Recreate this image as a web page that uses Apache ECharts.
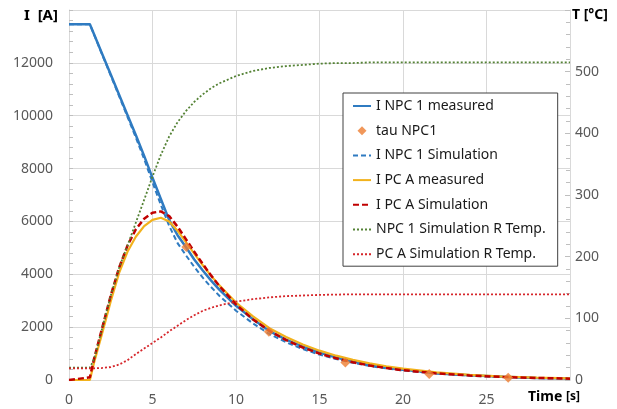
<!DOCTYPE html>
<html>
<head>
<meta charset="utf-8">
<script src="https://cdn.jsdelivr.net/npm/echarts@6/dist/echarts.min.js"></script>
<style>
  html, body { margin: 0; padding: 0; background: #fff; }
  #chart { width: 617px; height: 409px; }
</style>
</head>
<body>
<div id="chart"></div>
<script>
// time axis [s], shared by all curves
var time = [0, 1.25, 1.5, 2, 2.5, 3, 3.5, 4, 4.5, 5, 5.5, 6, 6.5, 7, 7.5, 8, 8.5, 9,
  10, 11, 12, 13, 14, 15, 16, 17, 18, 19, 20, 22, 24, 26, 28, 30];

// currents [A]
var npcMeasured = [13460, 13460, 13080, 12320, 11560, 10790, 10030, 9270, 8480, 7650, 6850, 6050, 5480, 5030, 4560, 4150, 3770, 3420,
  2810, 2310, 1850, 1530, 1260, 1040, 850, 700, 575, 475, 390, 260, 180, 120, 80, 55];
var npcSim = [13460, 13460, 13070, 12290, 11520, 10740, 9960, 9180, 8360, 7480, 6630, 5830, 5180, 4720, 4280, 3880, 3520, 3190,
  2620, 2150, 1740, 1430, 1170, 960, 790, 650, 530, 440, 360, 245, 165, 110, 75, 50];
var pcaMeasured = [0, 0, 650, 1800, 2980, 4050, 4850, 5420, 5820, 6060, 6140, 6000, 5650, 5220, 4780, 4350, 3950, 3580,
  2930, 2420, 1960, 1630, 1340, 1110, 920, 760, 630, 520, 430, 290, 195, 130, 88, 60];
var pcaSim = [0, 100, 800, 2000, 3200, 4250, 5080, 5700, 6100, 6330, 6380, 6200, 5800, 5330, 4850, 4400, 3960, 3560,
  2860, 2300, 1860, 1510, 1230, 1000, 820, 670, 550, 450, 370, 250, 170, 115, 78, 52];

// temperatures [°C]
var npcTemp = [20, 20, 34, 85, 137, 182, 218, 255, 292, 330, 365, 395, 418, 436, 451, 463, 473, 481,
  493, 501, 506, 509, 511, 513, 514, 514, 515, 515, 515, 515, 515, 515, 515, 515];
var pcaTemp = [19, 19, 19, 19.5, 21, 25, 32, 42, 51, 60, 69, 79, 88, 97, 105, 112, 117, 121,
  127, 131, 134, 136, 137, 138, 138.5, 139, 139, 139, 139, 139, 139, 139, 139, 139];

// tau markers
var tauTime = [7.03, 11.97, 16.55, 21.57, 26.3];
var tauCurrent = [5030, 1830, 665, 228, 88];

function pairs(xs, ys) {
  return xs.map(function (x, i) { return [x, ys[i]]; });
}

var font = '"Noto Sans", "DejaVu Sans", sans-serif';
var gridColor = '#d9d9d9';
var noSymbol = { color: 'rgba(0,0,0,0)', borderColor: 'rgba(0,0,0,0)', borderWidth: 0 };

var chart = echarts.init(document.getElementById('chart'));

var option = {
  animation: false,
  backgroundColor: '#fff',
  grid: { left: 69, right: 47, top: 10, bottom: 29 },
  legend: {
    orient: 'vertical',
    left: 343,
    top: 93,
    padding: [6, 12, 5, 9],
    itemWidth: 18,
    itemHeight: 9,
    itemGap: 10.7,
    borderColor: '#404040',
    borderWidth: 1,
    backgroundColor: '#fff',
    textStyle: { fontFamily: font, fontSize: 14, color: '#1a1a1a', lineHeight: 14 },
    data: [
      { name: 'I NPC 1 measured', itemStyle: noSymbol },
      { name: 'tau NPC1', icon: 'path://M0,0M18,9M9,0L13.5,4.5L9,9L4.5,4.5Z' },
      { name: 'I NPC 1 Simulation', itemStyle: noSymbol },
      { name: 'I PC A measured', itemStyle: noSymbol },
      { name: 'I PC A Simulation', itemStyle: noSymbol },
      { name: 'NPC 1 Simulation R Temp.', itemStyle: noSymbol },
      { name: 'PC A Simulation R Temp.', itemStyle: noSymbol }
    ]
  },
  xAxis: {
    type: 'value',
    min: 0, max: 30, interval: 5,
    axisLine: { lineStyle: { color: gridColor } },
    axisTick: { show: false },
    splitLine: { lineStyle: { color: gridColor } },
    axisLabel: {
      color: '#595959', fontFamily: font, fontSize: 14, margin: 13,
      showMaxLabel: false
    }
  },
  yAxis: [
    {
      type: 'value',
      min: 0, max: 14000, interval: 2000,
      axisLine: { show: true, lineStyle: { color: gridColor } },
      axisTick: { show: true, inside: true, length: 4, lineStyle: { color: '#bfbfbf' } },
      minorTick: { show: true, splitNumber: 5, length: 4, lineStyle: { color: '#bfbfbf' } },
      splitLine: { lineStyle: { color: gridColor } },
      axisLabel: {
        color: '#595959', fontFamily: font, fontSize: 14, margin: 16,
        showMaxLabel: false,
        formatter: function (v) { return String(v); }
      }
    },
    {
      type: 'value',
      min: 0, max: 600, interval: 100,
      axisLine: { show: true, lineStyle: { color: gridColor } },
      axisTick: { show: true, inside: true, length: 5, lineStyle: { color: '#bfbfbf' } },
      minorTick: { show: true, splitNumber: 5, length: 4, lineStyle: { color: '#bfbfbf' } },
      splitLine: { show: false },
      axisLabel: {
        color: '#595959', fontFamily: font, fontSize: 14, margin: 5,
        showMaxLabel: false
      }
    }
  ],
  graphic: [
    {
      type: 'text', left: 24, top: 8,
      style: { text: 'I  [A]', font: 'bold 15px ' + font, fill: '#000' }
    },
    {
      type: 'text', left: 572, top: 8,
      style: { text: 'T [°C]', font: 'bold 14px ' + font, fill: '#000' }
    },
    {
      type: 'text', left: 528, top: 390,
      style: {
        text: '{a|Time }{b|[s]}',
        rich: {
          a: { fontFamily: font, fontWeight: 'bold', fontSize: 14, fill: '#000' },
          b: { fontFamily: font, fontWeight: 'bold', fontSize: 12, fill: '#000' }
        }
      }
    }
  ],
  series: [
    {
      name: 'I NPC 1 measured', type: 'line', symbol: 'none',
      data: pairs(time, npcMeasured),
      lineStyle: { color: '#2f7bc1', width: 2.5 },
      itemStyle: { color: '#2f7bc1' }
    },
    {
      name: 'tau NPC1', type: 'scatter', symbol: 'diamond', symbolSize: 10, z: 5,
      data: pairs(tauTime, tauCurrent),
      itemStyle: { color: '#ed7d31' }
    },
    {
      name: 'I NPC 1 Simulation', type: 'line', symbol: 'none',
      data: pairs(time, npcSim),
      lineStyle: { color: '#2f7bc1', width: 2, type: [5, 3] },
      itemStyle: { color: '#2f7bc1' }
    },
    {
      name: 'I PC A measured', type: 'line', symbol: 'none',
      data: pairs(time, pcaMeasured),
      lineStyle: { color: '#f2b21c', width: 2.2 },
      itemStyle: { color: '#f2b21c' }
    },
    {
      name: 'I PC A Simulation', type: 'line', symbol: 'none',
      data: pairs(time, pcaSim),
      lineStyle: { color: '#c00000', width: 2.5, type: [6, 3] },
      itemStyle: { color: '#c00000' }
    },
    {
      name: 'NPC 1 Simulation R Temp.', type: 'line', symbol: 'none', yAxisIndex: 1,
      data: pairs(time, npcTemp),
      lineStyle: { color: '#548235', width: 1.8, type: [2, 2] },
      itemStyle: { color: '#548235' }
    },
    {
      name: 'PC A Simulation R Temp.', type: 'line', symbol: 'none', yAxisIndex: 1,
      data: pairs(time, pcaTemp),
      lineStyle: { color: '#d6262b', width: 1.8, type: [2, 2] },
      itemStyle: { color: '#d6262b' }
    }
  ]
};

chart.setOption(option);
</script>
</body>
</html>
